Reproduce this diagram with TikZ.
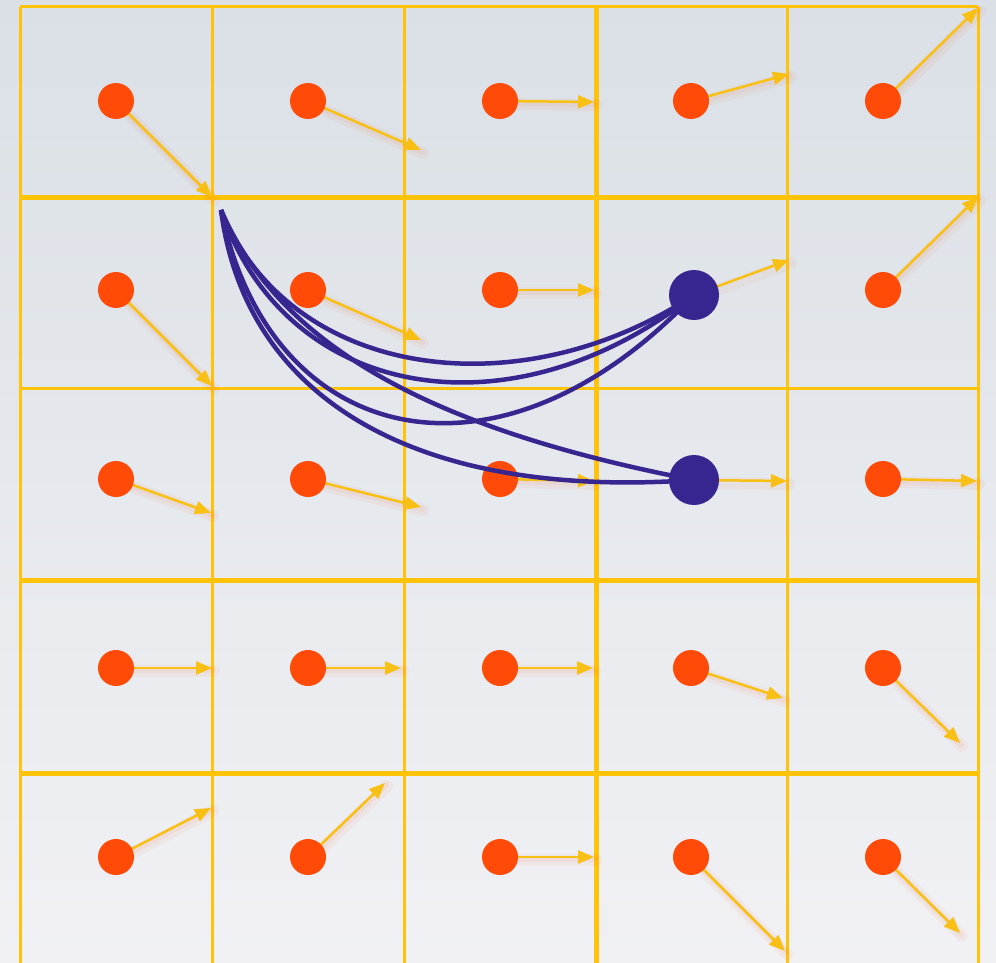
\documentclass[tikz,border=0pt]{standalone}
\usetikzlibrary{arrows.meta}
\definecolor{bgtop}{HTML}{DAE0E6}
\definecolor{bgbot}{HTML}{F1F1F4}
\definecolor{gridy}{HTML}{FFC408}
\definecolor{arry}{HTML}{F8C015}
\definecolor{dotred}{HTML}{FF4A08}
\definecolor{curveblue}{HTML}{372590}
\pgfdeclarelayer{back}
\pgfdeclarelayer{mid}
\pgfsetlayers{back,mid,main}
\begin{document}
\begin{tikzpicture}[x=1pt,y=-1pt,
  thingrid/.style={draw=gridy,line width=3pt},
  thickgrid/.style={draw=gridy,line width=5pt},
  reddot/.style={circle,fill=dotred,inner sep=0pt,minimum size=36pt},
  bluedot/.style={circle,fill=curveblue,inner sep=0pt,minimum size=50pt},
  vec/.style={draw=arry,line width=2.5pt,-{Triangle[length=16pt,width=13pt]}},
  glow/.style={draw=dotred,line cap=round,shorten <=18pt},
  link/.style={draw=curveblue,line width=4.5pt}]
\useasboundingbox (0,0) rectangle (996,963);
\begin{pgfonlayer}{back}
\shade[top color=bgtop,bottom color=bgbot] (0,0) rectangle (996,963);
% grid
\foreach \x in {20,212,404,787,978} \draw[thingrid] (\x,7) -- (\x,970);
\draw[thickgrid] (596,7) -- (596,970);
\foreach \y in {7,388} \draw[thingrid] (20,\y) -- (978,\y);
\foreach \y in {197,580,773} \draw[thickgrid] (20,\y) -- (978,\y);
\end{pgfonlayer}
% red dots
\foreach \r/\y in {1/101,2/290,3/479,4/668,5/857}{
  \foreach \c/\x in {1/116,2/308,3/500,4/691,5/883}{
    \node[reddot] (d\r\c) at (\x,\y) {};
  }
}
% arrows
\begin{pgfonlayer}{mid}
\foreach \n/\ex/\ey in {d11/212/197,d12/421/150,d13/594/102,d14/789/74,d15/978/8,
  d21/212/386,d22/421/340,d23/594/290,d25/978/197,
  d31/211/513,d32/421/507,d33/594/481,d35/977/481,
  d41/212/668,d42/401/668,d43/593/668,d44/783/698,d45/960/743,
  d51/211/808,d52/385/783,d53/594/857,d54/785/951,d55/960/933}{
  \coordinate (e-\n) at (\ex,\ey);
  \draw[glow,line width=12pt,opacity=0.05] ([shift={(2,3)}]\n.center) -- ([shift={(2,3)}]e-\n);
  \draw[glow,line width=6pt,opacity=0.06] ([shift={(1,2)}]\n.center) -- ([shift={(1,2)}]e-\n);
  \draw[vec] (\n.center) -- (e-\n);
}
\end{pgfonlayer}
% blue dots positions
\coordinate (b1p) at (694,295);
\coordinate (b2p) at (694,480);
\coordinate (s) at (221,210);
\coordinate (eb1) at (789,260);
\coordinate (eb2) at (787,481);
\begin{pgfonlayer}{mid}
\draw[glow,line width=12pt,opacity=0.05] ([shift={(2,3)}]b1p) -- ([shift={(2,3)}]eb1);
\draw[glow,line width=12pt,opacity=0.05] ([shift={(2,3)}]b2p) -- ([shift={(2,3)}]eb2);
\draw[vec] (b1p) -- (eb1);
\draw[vec] (b2p) -- (eb2);
\end{pgfonlayer}
% curves
\draw[link] (s) .. controls (290,380) and (520,410) .. (b1p);
\draw[link] (s) .. controls (285,400) and (510,440) .. (b1p);
\draw[link] (s) .. controls (270,450) and (500,500) .. (b1p);
\draw[link] (s) .. controls (282,352) and (445,432) .. (b2p);
\draw[link] (s) .. controls (245,395) and (410,500) .. (b2p);
\node[bluedot] (b1) at (b1p) {};
\node[bluedot] (b2) at (b2p) {};
\end{tikzpicture}
\end{document}
